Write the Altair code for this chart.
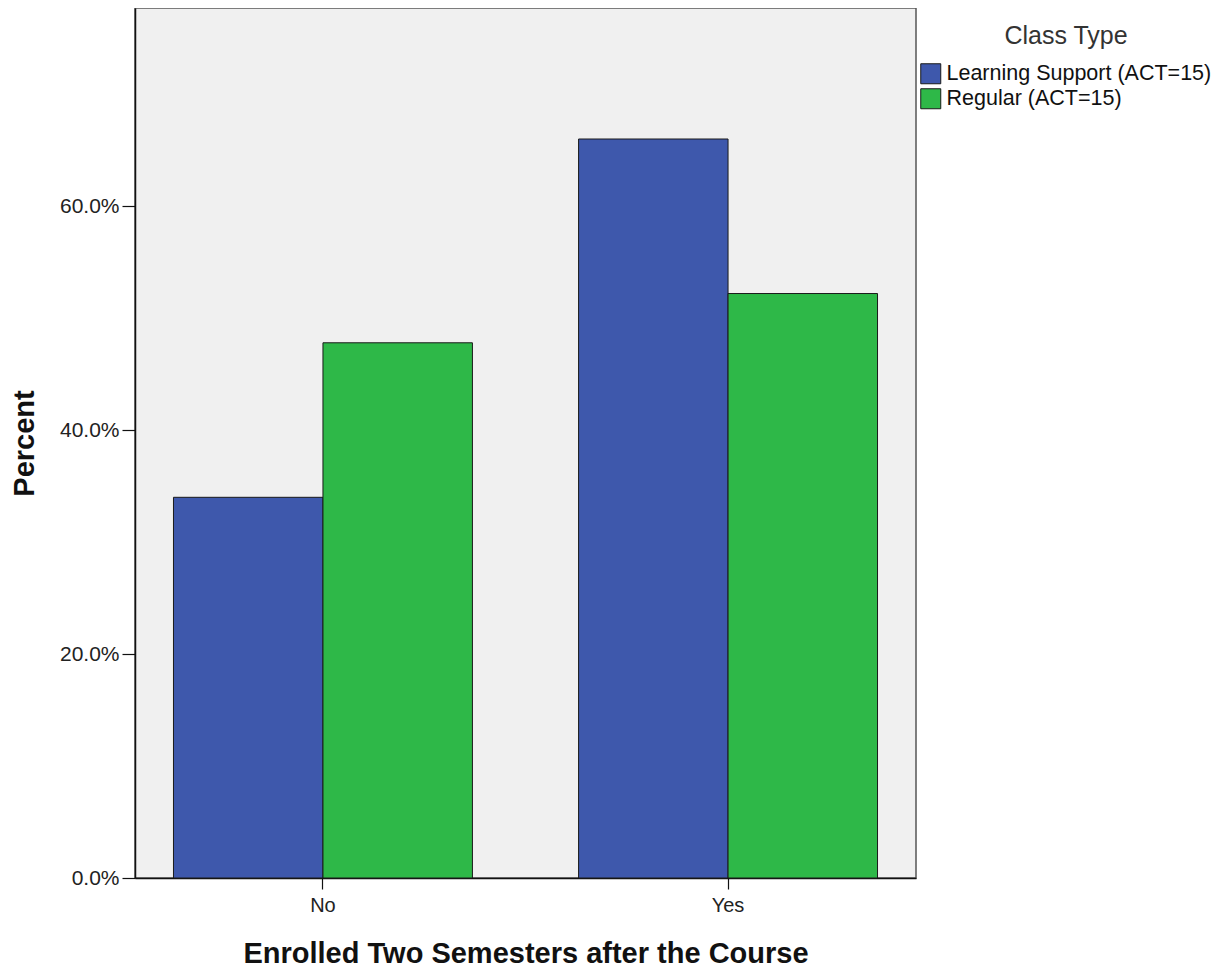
import altair as alt
import pandas as pd

categories = ["No", "Yes"]
groups = ["Learning Support (ACT=15)", "Regular (ACT=15)"]
learning_support = [34.0, 66.0]
regular = [47.8, 52.2]
y_ticks = [0, 20, 40, 60]
colors = ["#3E58AC", "#2EB848"]

rows = []
for i, c in enumerate(categories):
    rows.append({"cat": c, "grp": groups[0], "val": learning_support[i]})
    rows.append({"cat": c, "grp": groups[1], "val": regular[i]})
df = pd.DataFrame(rows)

FONT = "Liberation Sans"

chart = alt.Chart(df).mark_bar(stroke="#1a1a1a", strokeWidth=1).encode(
    x=alt.X("cat:N", sort=categories,
            scale=alt.Scale(paddingInner=0.262, paddingOuter=0.095),
            axis=alt.Axis(title="Enrolled Two Semesters after the Course", labelAngle=0,
                          labelFontSize=20, labelFont=FONT, labelColor="#222",
                          titleFontSize=29, titleFont=FONT, titleFontWeight="bold", titleColor="#111",
                          tickSize=11, tickColor="#111", domainColor="#111",
                          labelPadding=6, titlePadding=24)),
    xOffset=alt.XOffset("grp:N", sort=groups, scale=alt.Scale(paddingInner=0, paddingOuter=0)),
    y=alt.Y("val:Q", scale=alt.Scale(domain=[0, 77.7], nice=False),
            axis=alt.Axis(title="Percent", values=y_ticks,
                          labelExpr="format(datum.value, '.1f') + '%'",
                          labelFontSize=21, labelFont=FONT, labelColor="#222",
                          titleFontSize=29, titleFont=FONT, titleFontWeight="bold", titleColor="#111",
                          tickSize=13, tickColor="#111", domainColor="#111",
                          labelPadding=3, titlePadding=20, grid=False)),
    color=alt.Color("grp:N", sort=groups,
                    scale=alt.Scale(domain=groups, range=colors),
                    legend=alt.Legend(title="Class Type", orient="none", legendX=785, legendY=16,
                                      titleFontSize=25, titleFont=FONT, titleFontWeight="normal",
                                      titleColor="#333", titleAnchor="middle", titlePadding=14,
                                      labelFontSize=21.5, labelFont=FONT, labelColor="#111",
                                      labelLimit=0,
                                      symbolType="square", symbolSize=400, symbolStrokeColor="#1a1a1a",
                                      symbolStrokeWidth=1, symbolOpacity=1, labelOffset=5,
                                      rowPadding=0)),
).properties(
    width=781, height=870,
    autosize=alt.AutoSizeParams(type="none"),
    padding={"left": 127, "top": 0, "right": 298, "bottom": 92},
).configure_view(
    fill="#F0F0F0", stroke="#555", strokeWidth=1.5
).configure_axis(domainWidth=1.5, tickWidth=1.2)

chart.save("out.html", embed_options={"renderer": "svg", "actions": False})
